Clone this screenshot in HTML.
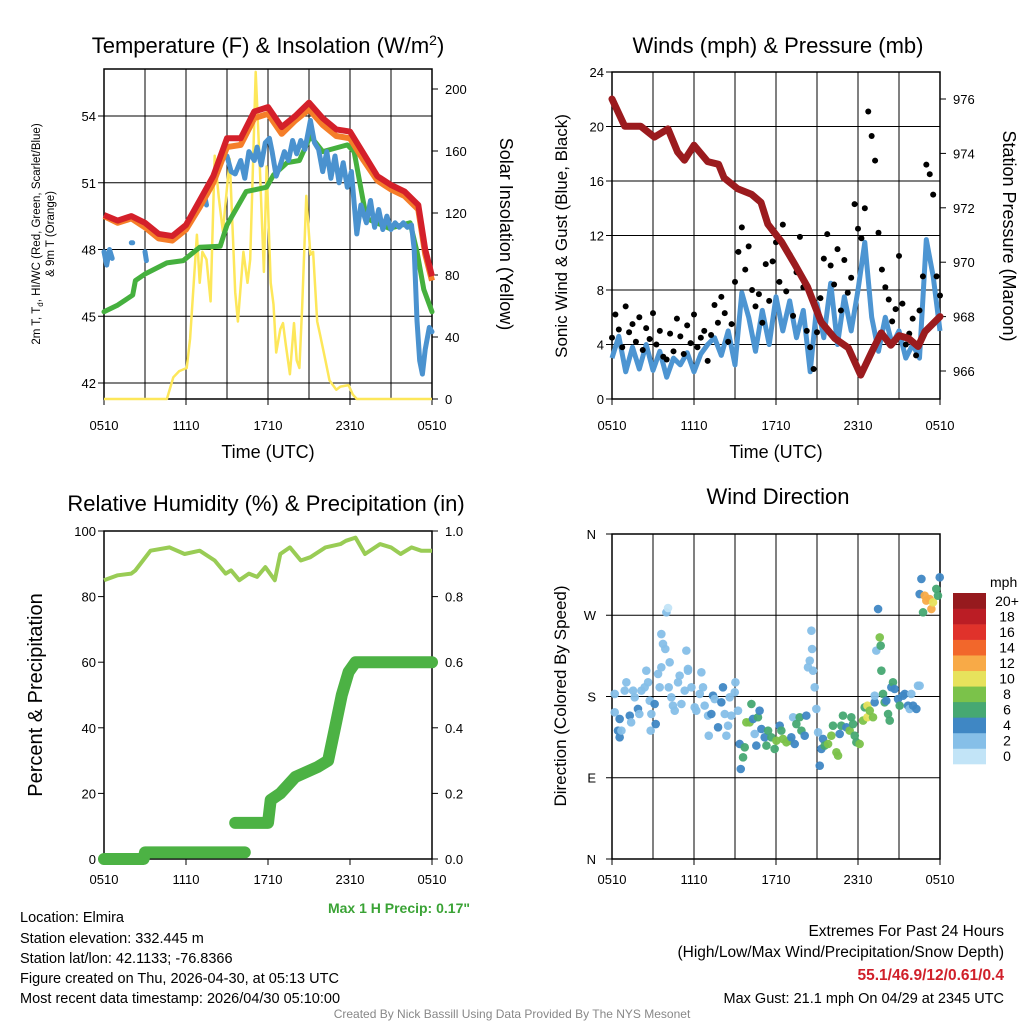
<!DOCTYPE html>
<html><head><meta charset="utf-8"><style>
html,body{margin:0;padding:0;background:#fff}
svg{display:block;font-family:"Liberation Sans",sans-serif}
</style></head><body>
<svg id="fig" width="1024" height="1024" viewBox="0 0 1024 1024" xmlns="http://www.w3.org/2000/svg">
<rect width="1024" height="1024" fill="#fff"/>
<g id="g1"></g>
<g id="g2"></g>
<g id="g3"></g>
<g id="g4"></g>

<text x="268" y="53" font-size="22" text-anchor="middle">Temperature (F) &amp; Insolation (W/m<tspan dy="-8" font-size="14">2</tspan><tspan dy="8">)</tspan></text>
<text x="778" y="53" font-size="22" text-anchor="middle">Winds (mph) &amp; Pressure (mb)</text>
<text x="266" y="511" font-size="22" text-anchor="middle">Relative Humidity (%) &amp; Precipitation (in)</text>
<text x="778" y="504" font-size="22" text-anchor="middle">Wind Direction</text>

<g font-size="11.5" text-anchor="middle">
<text transform="translate(40,234) rotate(-90)">2m T, T<tspan font-size="8" dy="3">d</tspan><tspan dy="-3">, HI/WC (Red, Green, Scarlet/Blue)</tspan></text>
<text transform="translate(54,234) rotate(-90)">&amp; 9m T (Orange)</text>
</g>
<text transform="translate(500,234) rotate(90)" font-size="18" text-anchor="middle">Solar Insolation (Yellow)</text>
<text transform="translate(567,236) rotate(-90)" font-size="17" text-anchor="middle">Sonic Wind &amp; Gust (Blue, Black)</text>
<text transform="translate(1003,236) rotate(90)" font-size="18" text-anchor="middle">Station Pressure (Maroon)</text>
<text transform="translate(42,695) rotate(-90)" font-size="20" text-anchor="middle">Percent &amp; Precipitation</text>
<text transform="translate(566,696) rotate(-90)" font-size="17" text-anchor="middle">Direction (Colored By Speed)</text>
<text x="268" y="458" font-size="18" text-anchor="middle">Time (UTC)</text>
<text x="776" y="458" font-size="18" text-anchor="middle">Time (UTC)</text>

<text x="470" y="913" font-size="14" font-weight="bold" fill="#3aa335" text-anchor="end">Max 1 H Precip: 0.17"</text>

<g font-size="14.5">
<text x="20" y="922">Location: Elmira</text>
<text x="20" y="943">Station elevation: 332.445 m</text>
<text x="20" y="963">Station lat/lon: 42.1133; -76.8366</text>
<text x="20" y="983">Figure created on Thu, 2026-04-30, at 05:13 UTC</text>
<text x="20" y="1003">Most recent data timestamp: 2026/04/30 05:10:00</text>
</g>
<g font-size="15.5" text-anchor="end">
<text x="1004" y="936">Extremes For Past 24 Hours</text>
<text x="1004" y="957">(High/Low/Max Wind/Precipitation/Snow Depth)</text>
<text x="1004" y="980" font-weight="bold" fill="#d0202a">55.1/46.9/12/0.61/0.4</text>
<text x="1004" y="1003" font-size="14.5">Max Gust: 21.1 mph On 04/29 at 2345 UTC</text>
</g>
<text x="512" y="1018" font-size="12" fill="#888" text-anchor="middle">Created By Nick Bassill Using Data Provided By The NYS Mesonet</text>
</svg>
<script>
// ---- data ----
const xTickLabels = ["0510","1110","1710","2310","0510"];
const tempTicks = [42,45,48,51,54];
const solarTicks = [0,40,80,120,160,200];
const redHours = [0,1,2,3,4,5,6,7,8,9,10,11,12,13,14,15,16,17,18,19,20,21,22,23,23.5,24];
const redTemp = [49.55,49.3,49.5,49.2,48.7,48.6,49.1,50.2,51.3,53.0,53.0,54.2,54.4,53.5,54.0,54.6,53.9,53.4,53.3,52.3,51.3,50.9,50.6,50.0,48.0,46.8];
const orangeTemp = [49.5,49.2,49.4,49.0,48.5,48.4,48.9,49.9,51.0,52.6,52.7,53.9,54.1,53.2,53.8,54.3,53.6,53.1,53.0,52.0,51.1,50.7,50.4,49.8,47.8,46.6];
const greenHours = [0,1,2.1,2.3,3,4.6,5.8,7,8.5,9,10.4,11.9,12.4,13.4,14.3,15.1,16,17.8,18.3,19.2,20.9,22.4,22.9,23.4,24];
const greenTemp = [45.2,45.5,45.95,46.6,46.9,47.4,47.5,48.1,48.15,49.1,50.6,50.8,51.35,51.9,52.0,53.1,52.4,52.7,52.4,49.4,48.95,49.2,47.9,46.2,45.2];
const blueHours = [0,0.2,0.4,0.6,null,2.0,2.1,null,3.0,3.1,null,7.4,7.5,null,9.0,9.3,9.6,10.0,10.3,10.6,11.0,11.2,11.5,11.8,12.1,12.3,12.6,12.9,13.2,13.5,13.8,14.1,14.4,14.7,15.1,15.4,15.7,16.0,16.3,16.6,16.9,17.2,17.5,17.8,18.1,18.5,18.8,19.2,19.5,19.8,20.1,20.4,20.7,21.0,21.3,21.6,21.9,22.2,22.5,22.7,22.9,23.1,23.3,23.5,23.8,24];
const blueTemp = [47.9,47.3,48.0,47.6,null,48.3,48.3,null,47.9,47.5,null,50.3,50.0,null,52.2,51.5,51.4,52.0,51.2,52.4,52.0,52.6,51.8,52.8,53.0,52.4,51.3,51.8,52.4,52.0,52.9,52.3,52.9,52.5,53.8,52.8,52.5,51.5,52.4,51.2,52.2,51.0,51.9,50.8,51.5,48.7,50.0,49.2,50.2,49.0,49.8,48.9,49.5,48.9,49.2,49.0,49.2,49.0,49.1,48.0,44.8,43.0,42.4,43.5,44.5,44.3];
const solarHours = [0,4.6,5.07,5.5,6.05,6.3,6.8,7.0,7.2,7.5,7.8,8.1,8.4,8.7,9.2,9.6,9.8,10.2,10.5,10.7,10.9,11.1,11.4,11.7,11.9,12.2,12.4,12.6,12.9,13.1,13.3,13.6,13.9,14.1,14.3,14.5,14.8,15.1,15.3,15.6,15.8,16.2,16.5,17.0,17.3,17.9,18.2,18.5,24];
const solarVals = [0,0,14,18,20,39,106,75,95,90,63,157,130,108,155,69,50,95,75,90,151,211,150,82,150,75,61,30,45,49,35,16,49,25,20,60,131,93,95,50,42,25,12,6,8,9,3,0,0];

const windTicks = [0,4,8,12,16,20,24];
const presTicks = [966,968,970,972,974,976];
const windSpeed = [3.0,4.6,2.0,3.8,2.2,4.0,2.1,3.5,1.6,3.0,2.5,3.4,2.0,3.3,4.0,4.5,3.2,5.0,2.5,7.8,6.0,3.5,6.5,4.0,7.5,5.0,7.2,4.5,6.5,2.0,7.0,4.5,8.5,4.0,7.5,5.0,8.0,11.5,6.0,3.5,6.0,4.0,5.0,3.0,4.0,3.0,11.7,9.0,5.0];
const gustSpeed = [4.5,6.2,5.1,3.8,6.8,4.9,5.5,4.2,6.0,3.6,5.2,4.4,6.3,4.0,5.0,3.1,
 2.9,4.8,3.5,5.9,4.6,3.3,5.4,4.1,6.2,3.8,4.5,5.0,2.8,4.7,6.9,5.6,
 7.5,6.3,4.2,5.5,8.6,10.8,12.6,9.5,11.2,8.0,6.8,7.7,5.6,9.9,7.2,10.1,
 11.5,8.6,12.8,7.9,10.6,6.1,9.3,11.9,8.2,5.0,3.8,2.2,4.9,7.4,10.3,12.1,
 9.8,8.4,11.0,6.5,10.2,7.8,8.9,14.3,12.5,11.8,14.0,21.1,19.3,17.5,12.2,9.5,
 8.2,7.3,5.7,6.6,10.5,7.0,4.0,4.8,5.9,3.2,6.5,9.0,17.2,16.5,15.0,9.0,7.6];
const presHours = [0,0.93,2.1,3.1,4.1,4.8,5.3,6.0,7.0,7.8,8.2,9.2,10.2,10.9,11.4,12.4,13.4,14.3,15.3,16.3,17.3,18.2,19.0,19.7,20.4,21.0,21.7,22.4,22.9,24];
const presVals = [976.0,975.0,975.0,974.6,974.9,974.05,973.75,974.3,973.7,973.6,973.1,972.7,972.5,972.2,971.4,970.75,969.9,969.1,967.8,967.2,966.85,965.85,966.7,967.4,966.95,967.3,967.2,966.9,967.45,968.0];

const rhTicks = [0,20,40,60,80,100];
const precipTicks = ["0.0","0.2","0.4","0.6","0.8","1.0"];
const rhHours = [0,1,2,2.3,3.4,4.8,5.9,7,8.1,8.9,9.3,9.9,10.6,11.2,11.8,12.5,12.9,13.6,14.4,15.1,16.2,17.3,17.7,18.4,19.1,20.2,21,21.7,22.5,23.2,24];
const rhVals = [85,86.5,87,88,94,95,93,94,91,87,88,85,87,86,89,85,93,95,91,92,95,96,97,98,93,96,95,93,95,94,94];
const precipHours = [0,2.9,3.0,10.3,null,9.6,12.0,12.2,12.9,14.0,15.6,16.4,16.9,17.4,17.9,18.4,24];
const precipVals = [0,0,0.02,0.02,null,0.11,0.11,0.18,0.20,0.25,0.28,0.30,0.40,0.50,0.57,0.60,0.60];

const dirTickLabels = ["N","E","S","W","N"];
const speedBins = ["0","2","4","6","8","10","12","14","16","18","20+"];
const speedColors = ["#c2e4f7","#86bfe8","#3f87c4","#46a872","#7bc24a","#e7e25c","#f8aa47","#f2672b","#e0322b","#bb1d25","#961a1e"];
const dirHours = [0.2,0.2,0.56,0.44,0.56,0.69,1.05,0.93,1.3,1.4,1.54,1.66,1.9,2.0,2.15,2.39,2.51,2.64,2.76,2.88,2.83,3.12,3.2,3.37,3.49,3.61,3.61,3.73,3.9,3.98,4.1,4.22,4.15,4.34,4.46,4.59,4.83,4.95,5.08,5.32,5.44,5.56,5.56,5.81,6.05,6.17,6.42,6.54,6.66,6.78,7.03,7.08,7.27,7.39,7.51,7.76,8.0,8.12,8.25,8.37,8.49,8.61,8.73,8.98,9.03,9.22,9.34,9.42,9.59,9.71,9.83,10.07,10.2,10.32,10.44,10.56,10.68,10.8,10.93,11.17,11.3,11.42,11.66,11.9,12.03,12.27,12.39,12.51,12.76,13.0,13.12,13.25,13.37,13.49,13.73,13.86,14.1,14.22,14.34,14.47,14.59,14.64,14.71,14.83,14.95,15.08,15.2,15.32,15.44,15.56,15.81,16.05,16.17,16.42,16.54,16.66,16.78,16.9,17.15,17.39,17.51,17.64,17.76,17.88,18.12,18.37,18.49,18.69,18.69,18.86,19.1,19.22,19.22,19.34,19.47,19.59,19.66,19.71,19.83,19.95,20.07,20.2,20.32,20.44,20.56,20.68,20.93,21.05,21.29,21.42,21.66,21.78,21.9,22.03,22.27,22.39,22.51,22.64,22.51,22.76,22.88,23.0,23.24,23.37,23.49,23.73,23.85,23.98];
const dirDeg = [182.8,162.5,155.1,142.2,134.8,142.2,195.7,186.5,158.8,151.4,186.5,179.1,166.2,160.6,186.5,190.2,208.6,195.7,175.4,160.6,142.2,171.7,149.5,205,190.2,212.3,249.2,238.2,232.6,273.2,278,217.9,190.2,179.1,169.9,164.3,195.7,203.1,171.7,186.5,230.8,210.5,208.6,190.2,168,164.3,182.8,206.8,190.2,169.9,158.8,136.6,160.6,180.9,177.2,145.9,173.6,190.2,160.6,136.6,147.7,179.1,158.8,184.6,195.7,164.3,127.4,99.7,112.6,123.7,151.4,151.4,171.7,155.1,138.5,125.6,157,164.3,144,134.8,125.6,142.2,134.8,121.9,131.1,147.7,142.2,133,129.3,131.1,134.8,157,127.4,149.5,157,142.2,136.6,158.8,212.3,219.7,252.9,232.6,208.6,190.2,166.2,140.3,103.4,121.9,133,125.6,127.4,136.6,147.7,118.2,114.5,138.5,147.7,158.8,145.9,142.2,157,149.5,136.6,129.3,127.4,153.3,168,169.9,157,164.3,157,173.6,180.9,230.8,276.9,245.5,236.3,208.6,182.8,173.6,175.4,160.6,153.3,190.2,195.7,188.3,177.2,169.9,180.9,182.8,169.9,166.2,182.8,169.9,166.2,192,192,310.2,293.5,273.2,291.7,286.2,288,276.9,284.3,299.1,291.7,312];
const dirSpeed = [2.5,2.5,4.5,4.5,4.5,2.5,2.5,2.5,4.5,2.5,2.5,2.5,4.5,2.5,2.5,2.5,2.5,2.5,2.5,2.5,2.5,4.5,4.5,2.5,2.5,2.5,2.5,2.5,2.5,2.5,1,2.5,2.5,2.5,2.5,2.5,2.5,2.5,2.5,2.5,2.5,2.5,2.5,2.5,2.5,2.5,2.5,2.5,2.5,2.5,2.5,2.5,4.5,4.5,2.5,4.5,4.5,4.5,2.5,2.5,2.5,2.5,2.5,2.5,2.5,2.5,4.5,4.5,6.5,6.5,8.5,8.5,6.5,4.5,2.5,4.5,6.5,4.5,4.5,4.5,6.5,6.5,6.5,6.5,8.5,4.5,6.5,8.5,8.5,8.5,4.5,2.5,4.5,6.5,6.5,6.5,4.5,4.5,2.5,2.5,2.5,2.5,2.5,2.5,2.5,2.5,4.5,4.5,4.5,6.5,8.5,8.5,6.5,8.5,8.5,4.5,6.5,6.5,4.5,8.5,6.5,6.5,6.5,6.5,8.5,8.5,6.5,10.5,10.5,8.5,8.5,4.5,2.5,2.5,4.5,8.5,6.5,6.5,6.5,6.5,4.5,6.5,6.5,4.5,6.5,4.5,4.5,6.5,4.5,4.5,4.5,2.5,2.5,4.5,4.5,2.5,2.5,4.5,4.5,6.5,12.5,12.5,12.5,12.5,10.5,6.5,6.5,4.5];

// ---- helpers ----
const NS = "http://www.w3.org/2000/svg";
function el(tag, parent, attrs) {
  const e = document.createElementNS(NS, tag);
  for (const k in attrs) e.setAttribute(k, attrs[k]);
  parent.appendChild(e);
  return e;
}
function pathFrom(xs, ys, fx, fy) {
  let d = "", pen = false;
  for (let i = 0; i < xs.length; i++) {
    if (xs[i] === null || ys[i] === null) { pen = false; continue; }
    d += (pen ? "L" : "M") + fx(xs[i]).toFixed(1) + "," + fy(ys[i]).toFixed(1);
    pen = true;
  }
  return d;
}
const W = 328;
function frame(g, x0, top, bot, hLines, label) {
  // vertical grid
  for (let i = 1; i < 8; i++) {
    const ln = el("line", g, {x1: x0 + i * 41, x2: x0 + i * 41, y1: top, y2: bot, stroke: "#000", "stroke-width": 1});
    
    
  }
  hLines.forEach(y => {
    const ln = el("line", g, {x1: x0, x2: x0 + W, y1: y, y2: y, stroke: "#000", "stroke-width": 1});
    
    
  });
  const r = el("rect", g, {x: x0, y: top, width: W, height: bot - top, fill: "none", stroke: "#000", "stroke-width": 1.5});
  
  
  xTickLabels.forEach((t, i) => {
    const x = x0 + i * 82;
    const tk = el("line", g, {x1: x, x2: x, y1: bot, y2: bot + 6, stroke: "#000"});
    
    
    const tx = el("text", g, {x: x, y: bot + 31 - (label === "humidity" || label === "direction" ? 6 : 0), "font-size": 13, "text-anchor": "middle"});
    tx.textContent = t;
    
    
  });
}
function leftTicks(g, x0, vals, fy, fmt) {
  vals.forEach(v => {
    const y = fy(v);
    const tk = el("line", g, {x1: x0 - 6, x2: x0, y1: y, y2: y, stroke: "#000"});
    
    
    const tx = el("text", g, {x: x0 - 8, y: y + 5, "font-size": 13, "text-anchor": "end"});
    tx.textContent = fmt ? fmt(v) : v;
    
    
  });
}
function rightTicks(g, x1, vals, fy, labels) {
  vals.forEach((v, i) => {
    const y = fy(v);
    const tk = el("line", g, {x1: x1, x2: x1 + 6, y1: y, y2: y, stroke: "#000"});
    
    
    const tx = el("text", g, {x: x1 + 13, y: y + 5, "font-size": 13});
    tx.textContent = labels ? labels[i] : v;
    
    
  });
}

// ---- panel 1: temperature ----
(function () {
  const g = document.getElementById("g1");
  const x0 = 104, top = 69, bot = 399;
  const fx = h => x0 + h * W / 24;
  const fy = t => 383 - (t - 42) * 22.25;
  const fs = v => 399 - v * 1.55;
  frame(g, x0, top, bot, tempTicks.map(fy), "temperature");
  leftTicks(g, x0, tempTicks, fy);
  rightTicks(g, x0 + W, solarTicks, fs);
  const p1 = el("path", g, {d: pathFrom(solarHours, solarVals, fx, fs), fill: "none", stroke: "#fde75a", "stroke-width": 2.5, "stroke-linejoin": "round"});
  
  
  const p2 = el("path", g, {d: pathFrom(greenHours, greenTemp, fx, fy), fill: "none", stroke: "#45b03e", "stroke-width": 5, "stroke-linejoin": "round", "stroke-linecap": "round"});
  
  
  const p3 = el("path", g, {d: pathFrom(blueHours, blueTemp, fx, fy), fill: "none", stroke: "#4a92cf", "stroke-width": 5, "stroke-linejoin": "round", "stroke-linecap": "round"});
  
  
  const p4 = el("path", g, {d: pathFrom(redHours, orangeTemp, fx, fy), fill: "none", stroke: "#f57e29", "stroke-width": 6, "stroke-linejoin": "round"});
  
  
  const p5 = el("path", g, {d: pathFrom(redHours, redTemp, fx, fy), fill: "none", stroke: "#d4202a", "stroke-width": 6, "stroke-linejoin": "round"});
  
  
})();

// ---- panel 2: winds ----
(function () {
  const g = document.getElementById("g2");
  const x0 = 612, top = 72, bot = 399;
  const fx = h => x0 + h * W / 24;
  const fy = v => 399 - v * 13.625;
  const fp = p => 371 - (p - 966) * 27.2;
  frame(g, x0, top, bot, windTicks.map(fy), "winds");
  leftTicks(g, x0, windTicks, fy);
  rightTicks(g, x0 + W, presTicks, fp);
  const wh = windSpeed.map((v, i) => i * 0.5);
  const p1 = el("path", g, {d: pathFrom(wh, windSpeed, fx, fy), fill: "none", stroke: "#4d95d2", "stroke-width": 5, "stroke-linejoin": "round"});
  
  
  gustSpeed.forEach((v, i) => {
    const c = el("circle", g, {cx: fx(i * 0.25), cy: fy(v), r: 3, fill: "#000"});
    
    
  });
  const p2 = el("path", g, {d: pathFrom(presHours, presVals, fx, fp), fill: "none", stroke: "#9b1b1e", "stroke-width": 7, "stroke-linejoin": "round", "stroke-linecap": "round"});
  
  
})();

// ---- panel 3: humidity & precipitation ----
(function () {
  const g = document.getElementById("g3");
  const x0 = 104, top = 531, bot = 859;
  const fx = h => x0 + h * W / 24;
  const fy = v => 859 - v * 3.28;
  const fp = v => 859 - v * 328;
  const r = el("rect", g, {x: x0, y: top, width: W, height: bot - top, fill: "none", stroke: "#000", "stroke-width": 1.5});
  
  
  xTickLabels.forEach((t, i) => {
    const x = x0 + i * 82;
    const tk = el("line", g, {x1: x, x2: x, y1: bot, y2: bot + 6, stroke: "#000"});
    
    
    const tx = el("text", g, {x: x, y: bot + 25, "font-size": 13, "text-anchor": "middle"});
    tx.textContent = t;
    
    
  });
  leftTicks(g, x0, rhTicks, fy);
  rightTicks(g, x0 + W, [0, 0.2, 0.4, 0.6, 0.8, 1.0], fp, precipTicks);
  const p1 = el("path", g, {d: pathFrom(rhHours, rhVals, fx, fy), fill: "none", stroke: "#99cc55", "stroke-width": 4, "stroke-linejoin": "round"});
  
  
  const p2 = el("path", g, {d: pathFrom(precipHours, precipVals, fx, fp), fill: "none", stroke: "#4cb244", "stroke-width": 12, "stroke-linejoin": "round", "stroke-linecap": "round"});
  
  
})();

// ---- panel 4: wind direction ----
(function () {
  const g = document.getElementById("g4");
  const x0 = 612, top = 534, bot = 859;
  const fx = h => x0 + h * W / 24;
  const fy = d => 859 - d * 0.9028;
  const dTicks = [0, 90, 180, 270, 360];
  frame(g, x0, top, bot, [90, 180, 270].map(fy), "direction");
  dTicks.forEach((d, i) => {
    const y = fy(d);
    const tk = el("line", g, {x1: x0 - 6, x2: x0, y1: y, y2: y, stroke: "#000"});
    
    
    const tx = el("text", g, {x: x0 - 16, y: y + 5, "font-size": 13, "text-anchor": "end"});
    tx.textContent = dirTickLabels[i];
    
    
  });
  dirHours.forEach((h, i) => {
    const idx = Math.min(Math.floor(dirSpeed[i] / 2), 10);
    const c = el("circle", g, {cx: fx(h), cy: fy(dirDeg[i]), r: 4.3, fill: speedColors[idx], "fill-opacity": 0.95});
    
    
  });
  // colorbar
  const cbTop = 593, cbH = 171 / 11;
  const lab = el("text", g, {x: 990, y: 587, "font-size": 14});
  lab.textContent = "mph";
  
  
  speedBins.forEach((b, i) => {
    const y = cbTop + (10 - i) * cbH;
    const rc = el("rect", g, {x: 953, y: y, width: 33, height: cbH + 0.3, fill: speedColors[i]});
    
    
    const tx = el("text", g, {x: 1007, y: y + cbH / 2 + 5, "font-size": 14, "text-anchor": "middle"});
    tx.textContent = b;
    
    
  });
})();
</script>
</body></html>
